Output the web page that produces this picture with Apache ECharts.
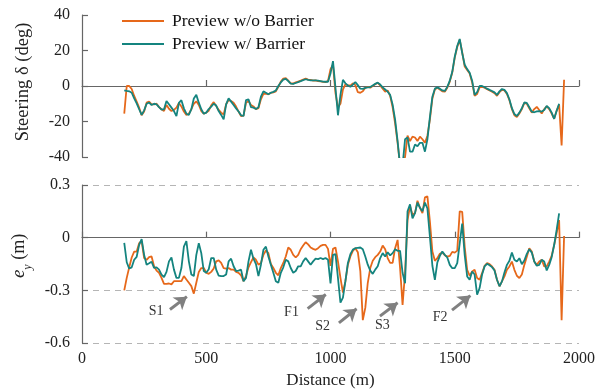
<!DOCTYPE html>
<html>
<head>
<meta charset="utf-8">
<script src="https://cdn.jsdelivr.net/npm/echarts@6/dist/echarts.min.js"></script>
<style>
  html, body { margin: 0; padding: 0; background: #fff; }
  #main { width: 610px; height: 392px; }
</style>
</head>
<body>
<div id="main"></div>
<script>
// distance along the track (m), one sample every 10 m
const distance = [
  170, 180, 190, 200, 210, 220, 230, 240, 250, 260,
  270, 280, 290, 300, 310, 320, 330, 340, 350, 360,
  370, 380, 390, 400, 410, 420, 430, 440, 450, 460,
  470, 480, 490, 500, 510, 520, 530, 540, 550, 560,
  570, 580, 590, 600, 610, 620, 630, 640, 650, 660,
  670, 680, 690, 700, 710, 720, 730, 740, 750, 760,
  770, 780, 790, 800, 810, 820, 830, 840, 850, 860,
  870, 880, 890, 900, 910, 920, 930, 940, 950, 960,
  970, 980, 990, 1000, 1010, 1020, 1030, 1040, 1050, 1060,
  1070, 1080, 1090, 1100, 1110, 1120, 1130, 1140, 1150, 1160,
  1170, 1180, 1190, 1200, 1210, 1220, 1230, 1240, 1250, 1260,
  1270, 1280, 1290, 1300, 1310, 1320, 1330, 1340, 1350, 1360,
  1370, 1380, 1390, 1400, 1410, 1420, 1430, 1440, 1450, 1460,
  1470, 1480, 1490, 1500, 1510, 1520, 1530, 1540, 1550, 1560,
  1570, 1580, 1590, 1600, 1610, 1620, 1630, 1640, 1650, 1660,
  1670, 1680, 1690, 1700, 1710, 1720, 1730, 1740, 1750, 1760,
  1770, 1780, 1790, 1800, 1810, 1820, 1830, 1840, 1850, 1860,
  1870, 1880, 1890, 1900, 1910, 1920, 1930, 1940
];

// steering angle (deg)
const steerNoBarrier = [
  -15.6, 0, 0, -1.7, -5.6, -8.8, -12.2, -16.5, -14.4, -9.4,
  -8.8, -10.3, -10.3, -10.0, -11.9, -13.1, -14.1, -10.7, -12.8, -14.1,
  -13.5, -12.2, -9.6, -11.5, -14.4, -16.3, -15.6, -13.1, -10.0, -8.6,
  -10.7, -14.1, -15.6, -15.0, -13.9, -10.9, -9.1, -11.3, -13.5, -15.0,
  -16.0, -10.3, -7.9, -8.5, -9.4, -11.6, -14.4, -16.9, -16.7, -9.5,
  -8.5, -10.7, -11.5, -13.0, -12.5, -7.5, -4.5, -4.3, -4.7, -3.8,
  -3.6, -3.0, -0.5, 2.5, 4.2, 4.5, 3.0, 1.5, 1.4, 2.0,
  2.5, 3.0, 3.6, 4.2, 3.6, 3.4, 3.0, 3.2, 2.8, 2.6,
  2.3, 2.2, 2.8, 9.5, 12.0, -4.0, -12.0, -10.0, -2.0, 1.0,
  0.5, 0.2, 1.5, 0.5, -3.5, -3.8, -3.0, -1.0, -0.5, -1.0,
  0, 1.0, 1.8, 0.3, -1.5, -3.2, -2.5, -5.5, -12.0, -21.0,
  -32, -45, -45, -40, -28, -31, -28.5, -29, -31, -28.5,
  -30, -32, -28, -19, -7, -2, -1, -2, -3, -3.2,
  -1, 2.5, 7.5, 16, 22, 26, 19, 11, 9, 7,
  2, -5.5, -4.5, -0.8, -0.5, -1, -1.8, -2.5, -3.2, -4.0,
  -5.5, -3.5, -2.2, -2.5, -4.5, -8, -13, -16.5, -17.5, -15.5,
  -13, -9.5, -10, -12.5, -15, -13, -11.8, -13.5, -15.5, -13,
  -11.5, -13, -15.5, -18.5, -14, -10.5, -33.5, 3.5
];
const steerBarrier = [
  -2.4, -2.8, -3.0, -3.8, -7.0, -9.8, -13.1, -16.3, -13.7, -10.0,
  -9.4, -10.7, -10.0, -10.3, -11.9, -13.3, -13.1, -8.5, -10.3, -12.2,
  -14.1, -17.0, -9.5, -8.0, -12.6, -15.6, -16.3, -13.1, -7.0, -5.0,
  -9.4, -13.1, -15.6, -15.0, -13.0, -11.6, -10.0, -11.0, -14.1, -16.3,
  -18.8, -10.3, -7.0, -8.8, -10.7, -12.6, -14.4, -16.5, -16.9, -8.0,
  -7.5, -11.9, -12.2, -13.0, -12.0, -6.0, -3.0, -3.8, -4.7, -3.8,
  -3.3, -2.5, 0, 2.0, 3.6, 4.0, 2.8, 1.3, 1.2, 1.7,
  2.2, 2.7, 3.3, 3.8, 3.4, 3.2, 3.2, 3.2, 3.0, 2.8,
  2.5, 2.4, 2.4, 7.0, 14.0, -1.0, -16.5, -5.0, 3.5, 1.5,
  0.3, -0.4, 0.8, 2.2, 0.5, -1.5, -1.6, -1.1, -0.8, -0.6,
  0.3, 1.2, 1.9, 0.8, -0.8, -2.0, -3.2, -5.0, -10.5, -19,
  -31, -45, -45, -30, -29, -37, -37, -33, -34, -32,
  -32, -37, -30, -17.5, -6, -1.5, -0.8, -1.5, -2.5, -2.8,
  -0.5, 3.0, 8.0, 16.5, 22.5, 26.5, 18.5, 12, 9.5, 7.5,
  3.0, -5, -3.5, 0, 0, -0.7, -1.5, -2.2, -2.8, -3.6,
  -5.0, -3.0, -1.7, -2.2, -4.0, -7.6, -12.5, -15.8, -16.9, -15.0,
  -12.5, -9.3, -9.5, -12, -14.5, -14.8, -14.3, -14.1, -14.4, -13.5,
  -11.3, -12.5, -15, -18.5, -14, -10.0, null, null
];

// lateral error e_y (m)
const eyNoBarrier = [
  -0.300, -0.229, -0.169, -0.113, -0.079, -0.079, -0.032, -0.019, -0.116, -0.126,
  -0.111, -0.107, -0.163, -0.188, -0.200, -0.229, -0.263, -0.263, -0.261, -0.266,
  -0.248, -0.248, -0.248, -0.248, -0.219, -0.238, -0.257, -0.276, -0.319, -0.257,
  -0.195, -0.173, -0.173, -0.200, -0.206, -0.195, -0.176, -0.135, -0.129, -0.144,
  -0.173, -0.176, -0.173, -0.182, -0.182, -0.195, -0.200, -0.214, -0.248, -0.219,
  -0.169, -0.139, -0.113, -0.126, -0.154, -0.144, -0.098, -0.073, -0.088, -0.150,
  -0.173, -0.200, -0.214, -0.173, -0.144, -0.107, -0.056, -0.069, -0.098, -0.113,
  -0.098, -0.066, -0.045, -0.026, -0.038, -0.056, -0.064, -0.069, -0.060, -0.047,
  -0.041, -0.041, -0.064, -0.160, -0.064, -0.056, -0.135, -0.229, -0.313, -0.248,
  -0.154, -0.107, -0.075, -0.060, -0.083, -0.190, -0.470, -0.400, -0.257, -0.173,
  -0.131, -0.111, -0.098, -0.079, -0.045, -0.066, -0.116, -0.144, -0.144, -0.060,
  -0.013, -0.173, -0.383, -0.200, 0.100, 0.180, 0.130, 0.140, 0.210, 0.170,
  0.140, 0.230, 0.235, 0.091, -0.079, -0.132, -0.117, -0.092, -0.085, -0.100,
  -0.108, -0.104, -0.081, -0.085, -0.074, 0.150, 0.147, -0.051, -0.183, -0.217,
  -0.193, -0.183, -0.230, -0.240, -0.202, -0.160, -0.145, -0.151, -0.164, -0.183,
  -0.240, -0.277, -0.249, -0.221, -0.183, -0.164, -0.136, -0.183, -0.217, -0.230,
  -0.210, -0.155, -0.108, -0.060, -0.079, -0.136, -0.155, -0.136, -0.126, -0.164,
  -0.164, -0.136, -0.104, -0.042, 0.025, 0.100, -0.470, 0.010
];
const eyBarrier = [
  -0.030, -0.140, -0.176, -0.169, -0.126, -0.109, -0.041, -0.008, -0.098, -0.154,
  -0.146, -0.137, -0.172, -0.169, -0.182, -0.210, -0.225, -0.195, -0.135, -0.113,
  -0.182, -0.229, -0.229, -0.173, -0.051, -0.019, -0.135, -0.210, -0.219, -0.098,
  -0.032, -0.088, -0.190, -0.200, -0.180, -0.116, -0.116, -0.182, -0.216, -0.219,
  -0.219, -0.210, -0.135, -0.120, -0.163, -0.190, -0.188, -0.182, -0.248, -0.229,
  -0.135, -0.069, -0.120, -0.150, -0.219, -0.154, -0.069, -0.051, -0.107, -0.154,
  -0.200, -0.248, -0.257, -0.200, -0.169, -0.126, -0.135, -0.173, -0.200, -0.190,
  -0.163, -0.163, -0.135, -0.116, -0.135, -0.154, -0.135, -0.120, -0.122, -0.116,
  -0.122, -0.116, -0.126, -0.260, -0.098, -0.094, -0.229, -0.370, -0.341, -0.248,
  -0.144, -0.094, -0.068, -0.060, -0.058, -0.056, -0.066, -0.107, -0.154, -0.188,
  -0.206, -0.182, -0.163, -0.116, -0.088, -0.107, -0.083, -0.101, -0.088, -0.066,
  -0.075, -0.075, -0.200, -0.260, 0.150, 0.190, 0.110, 0.140, 0.200, 0.170,
  0.150, 0.200, 0.166, 0.006, -0.160, -0.240, -0.141, -0.104, -0.079, -0.098,
  -0.113, -0.155, -0.174, -0.174, -0.145, -0.032, 0.080, -0.098, -0.221, -0.240,
  -0.193, -0.210, -0.325, -0.287, -0.210, -0.164, -0.149, -0.157, -0.168, -0.187,
  -0.240, -0.277, -0.249, -0.198, -0.155, -0.132, -0.085, -0.126, -0.136, -0.117,
  -0.151, -0.130, -0.092, -0.066, -0.085, -0.136, -0.160, -0.155, -0.126, -0.136,
  -0.187, -0.155, -0.111, -0.042, 0.044, 0.138, null, null
];

// annotation arrows [fromX, fromY, toX, toY] and tags [x, y, text] in data units
const arrows = [
  [354, -0.409, 422, -0.336],
  [908, -0.404, 981, -0.324],
  [1034, -0.485, 1105, -0.405],
  [1199, -0.447, 1270, -0.371],
  [1489, -0.413, 1563, -0.330]
];
const tags = [
  [298, -0.42, 'S1'],
  [843, -0.423, 'F1'],
  [968, -0.505, 'S2'],
  [1209, -0.497, 'S3'],
  [1441, -0.454, 'F2']
];

const FONT = '"Liberation Serif", "Times New Roman", serif';
const ORANGE = '#E6681A';
const TEAL = '#14847F';
const AXIS = '#666';

const pairs = (ys) => distance.map((d, i) => [d, ys[i]]);

const axisLine = { lineStyle: { color: AXIS, width: 1.2 } };
const axisTick = { inside: true, length: 6, lineStyle: { color: AXIS, width: 1.2 } };
const labelFont = { color: '#222', fontFamily: FONT, fontSize: 16 };

const myChart = echarts.init(document.getElementById('main'), null, { renderer: 'canvas' });

const lineSeries = (name, data, color, xi) => ({
  name: name,
  type: 'line',
  xAxisIndex: xi,
  yAxisIndex: xi,
  data: data,
  showSymbol: false,
  symbol: 'none',
  connectNulls: false,
  clip: true,
  lineStyle: { color: color, width: 1.8 },
  itemStyle: { color: color }
});

const option = {
  animation: false,
  backgroundColor: '#fff',
  grid: [
    { left: 82, top: 15, width: 497, height: 142 },
    { left: 82, top: 185, width: 497, height: 158 }
  ],
  legend: {
    orient: 'vertical',
    left: 117,
    top: 7,
    icon: 'rect',
    itemWidth: 42,
    itemHeight: 2,
    itemGap: 5,
    textStyle: { color: '#111', fontFamily: FONT, fontSize: 17.5, padding: [0, 0, 0, 3] },
    data: ['Preview w/o Barrier', 'Preview w/ Barrier']
  },
  xAxis: [
    {
      gridIndex: 0, type: 'value', min: 0, max: 2000, interval: 500,
      axisLine: axisLine, axisTick: axisTick,
      axisLabel: { show: false }, splitLine: { show: false }
    },
    {
      gridIndex: 1, type: 'value', min: 0, max: 2000, interval: 500,
      axisLine: axisLine, axisTick: axisTick,
      axisLabel: Object.assign({ margin: 8, formatter: v => String(v) }, labelFont),
      splitLine: { show: false },
      name: 'Distance (m)', nameLocation: 'middle', nameGap: 29,
      nameTextStyle: { color: '#222', fontFamily: FONT, fontSize: 17 }
    }
  ],
  yAxis: [
    {
      gridIndex: 0, type: 'value', min: -40, max: 40, interval: 20,
      axisLine: Object.assign({ show: true }, axisLine), axisTick: axisTick,
      axisLabel: Object.assign({ margin: 12 }, labelFont),
      splitLine: { show: false },
      name: 'Steering δ (deg)', nameLocation: 'middle', nameGap: 49,
      nameTextStyle: { color: '#222', fontFamily: FONT, fontSize: 18.5, padding: [0, 0, 0, 8] }
    },
    {
      gridIndex: 1, type: 'value', min: -0.6, max: 0.3, interval: 0.3,
      axisLine: Object.assign({ show: true }, axisLine), axisTick: axisTick,
      axisLabel: Object.assign({ margin: 12 }, labelFont),
      splitLine: { show: true, lineStyle: { color: '#b5b5b5', width: 1.2, type: [6, 5] } },
      name: '{e|e}{s|y}{n| (m)}', nameLocation: 'middle', nameGap: 47,
      nameTextStyle: {
        color: '#222', fontFamily: FONT, fontSize: 17, padding: [0, 0, 0, 16],
        rich: {
          e: { fontFamily: FONT, fontSize: 19, fontStyle: 'italic', color: '#222', lineHeight: 22 },
          s: { fontFamily: FONT, fontSize: 12, fontStyle: 'italic', color: '#222', verticalAlign: 'bottom', lineHeight: 22, padding: [0, 0, -4, 0] },
          n: { fontFamily: FONT, fontSize: 18, color: '#222', lineHeight: 22 }
        }
      }
    }
  ],
  series: [
    lineSeries('Preview w/o Barrier', pairs(steerNoBarrier), ORANGE, 0),
    lineSeries('Preview w/ Barrier', pairs(steerBarrier), TEAL, 0),
    lineSeries('Preview w/o Barrier', pairs(eyNoBarrier), ORANGE, 1),
    lineSeries('Preview w/ Barrier', pairs(eyBarrier), TEAL, 1),
    {
      name: 'annotations',
      type: 'line',
      xAxisIndex: 1,
      yAxisIndex: 1,
      data: [],
      silent: true,
      markLine: {
        silent: true,
        symbol: ['none', 'arrow'],
        symbolSize: [12, 12],
        label: { show: false },
        lineStyle: { color: '#808080', width: 3, type: 'solid' },
        emphasis: { disabled: true },
        data: arrows.map(a => [{ coord: [a[0], a[1]] }, { coord: [a[2], a[3]] }])
      },
      markPoint: {
        silent: true,
        symbol: 'circle',
        symbolSize: 1,
        itemStyle: { color: 'rgba(0,0,0,0)' },
        label: {
          show: true, position: 'inside', formatter: p => p.name,
          color: '#333', fontFamily: FONT, fontSize: 14
        },
        data: tags.map(t => ({ name: t[2], coord: [t[0], t[1]] }))
      }
    }
  ]
};

option && myChart.setOption(option, true);
</script>
</body>
</html>
